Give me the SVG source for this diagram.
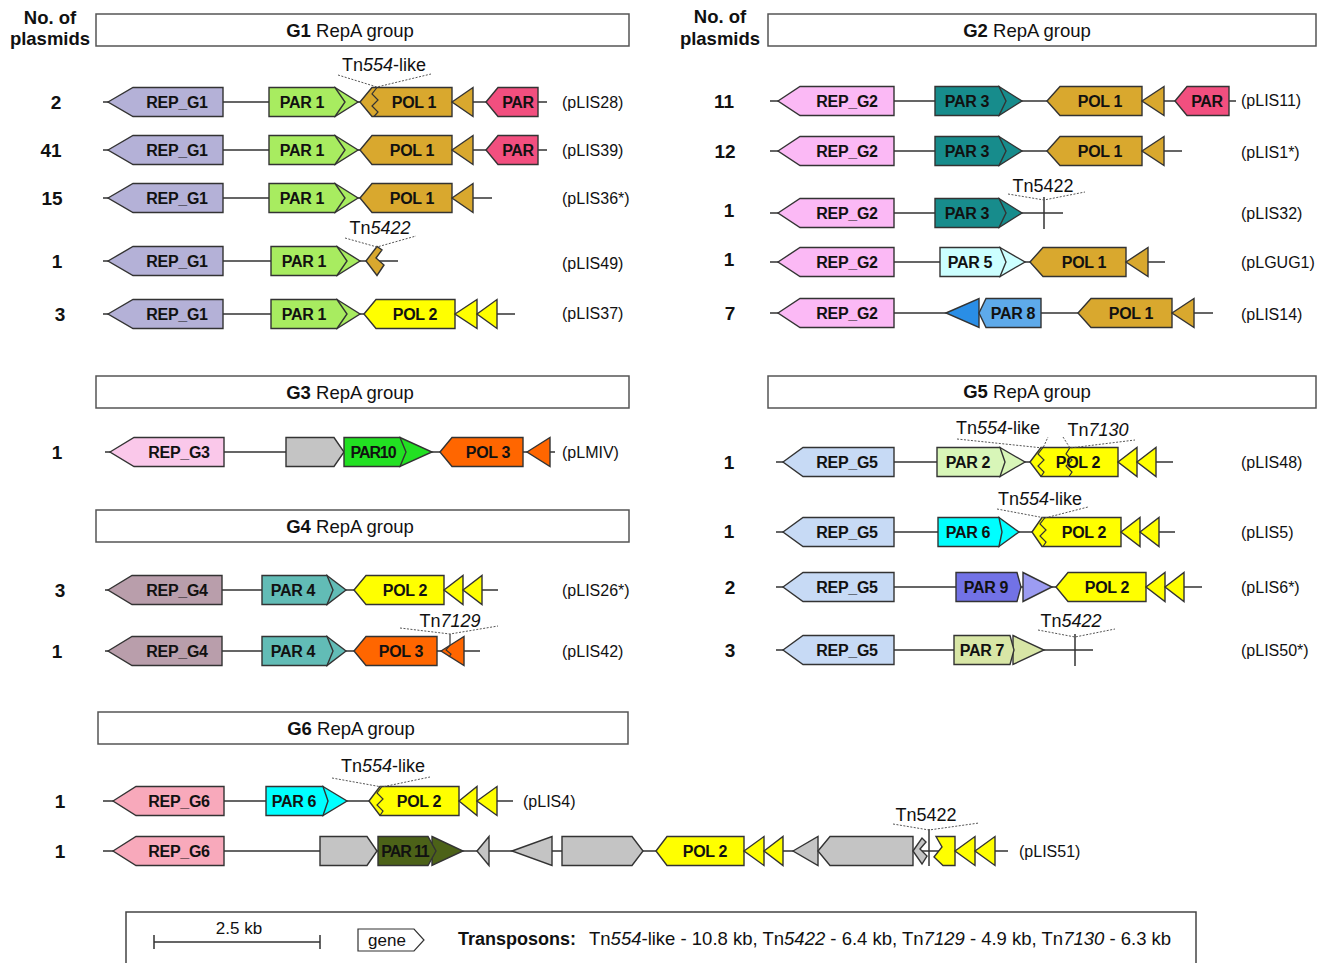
<svg xmlns="http://www.w3.org/2000/svg" width="1323" height="963" viewBox="0 0 1323 963">
<style>
text{font-family:"Liberation Sans",Arial,sans-serif;fill:#111}
.g{stroke:#333;stroke-width:1.4;stroke-linejoin:miter}
.bb{stroke:#333;stroke-width:1.5;fill:none}
.z{stroke:#333;stroke-width:1.2;fill:none}
.dot{fill:none;stroke:#555;stroke-width:1;stroke-dasharray:2 1.5}
.t{font-weight:bold;font-size:16px;letter-spacing:-0.3px;text-anchor:middle}
.tc{font-weight:bold;font-size:16px;letter-spacing:-1.1px;text-anchor:middle}
.lab{font-size:16px}
.num{font-weight:bold;font-size:19px;text-anchor:middle}
.tn{font-size:18px;text-anchor:middle}
.hd{stroke:#555;stroke-width:1.5;fill:#fff}
.ht{font-size:18.5px;text-anchor:middle}
.rep1{fill:#b4b1d7}.rep2{fill:#fbb9f5}.rep3{fill:#fac8ea}.rep4{fill:#b99eab}.rep5{fill:#c7daf5}.rep6{fill:#f8a9bb}
.par1{fill:#a8ec60}.par2{fill:#d8f6b8}.par3{fill:#178c8c}.par4{fill:#62bcb6}.par5{fill:#ccffff}.par6{fill:#00ffff}
.par7{fill:#d8e6a6}.par8{fill:#5eaaea}.par8t{fill:#2a8ee6}.par9{fill:#7272e6}.par9t{fill:#9c9cf2}.par10{fill:#22e022}.par11{fill:#4c6218}
.parx{fill:#f24f7f}.pol1{fill:#d9a82e}.pol2{fill:#ffff00}.pol3{fill:#ff6600}.gray{fill:#c4c4c4}
</style>

<g id="connectors">
<path class="bb" d="M103,102H547M103,150H547M103,198H492M103,261H398M103,314H515"/>
<path class="bb" d="M770,101H1236M770,151H1182M770,213H1063M770,262H1165M770,313H1213"/>
<path class="bb" d="M105,452H555M105,590H498M105,651H480"/>
<path class="bb" d="M776,462H1173M776,532H1175M776,587H1202M776,650H1093"/>
<path class="bb" d="M103,801H513M103,851H1008"/>
</g>

<!-- Headers -->
<g id="hdr-g1"><text class="num" x="50" y="24" style="font-size:18.5px">No. of</text><text class="num" x="50" y="45" style="font-size:18.5px">plasmids</text>
<rect class="hd" x="96" y="14" width="533" height="32"/><text class="ht" x="350" y="37"><tspan font-weight="bold">G1</tspan> RepA group</text></g>
<g id="hdr-g2"><text class="num" x="720" y="23" style="font-size:18.5px">No. of</text><text class="num" x="720" y="45" style="font-size:18.5px">plasmids</text>
<rect class="hd" x="768" y="14" width="548" height="32"/><text class="ht" x="1027" y="37"><tspan font-weight="bold">G2</tspan> RepA group</text></g>
<g id="hdr-g3"><rect class="hd" x="96" y="376" width="533" height="32"/><text class="ht" x="350" y="399"><tspan font-weight="bold">G3</tspan> RepA group</text></g>
<g id="hdr-g4"><rect class="hd" x="96" y="510" width="533" height="32"/><text class="ht" x="350" y="533"><tspan font-weight="bold">G4</tspan> RepA group</text></g>
<g id="hdr-g5"><rect class="hd" x="768" y="376" width="548" height="32"/><text class="ht" x="1027" y="398"><tspan font-weight="bold">G5</tspan> RepA group</text></g>
<g id="hdr-g6"><rect class="hd" x="98" y="712" width="530" height="32"/><text class="ht" x="351" y="735"><tspan font-weight="bold">G6</tspan> RepA group</text></g>

<!-- G1 row 1 -->
<g id="g1r1">
<text class="num" x="56" y="109">2</text>
<g id="g1r1-rep"><polygon class="g rep1" points="108,102 133,87.5 223,87.5 223,116.5 133,116.5"/><text class="t" x="177" y="108">REP_G1</text></g>
<g id="g1r1-par"><polygon class="g par1" points="335,87.5 358,102 335,116.5"/><polygon class="g par1" points="269,87.5 335,87.5 345,102 335,116.5 269,116.5"/><text class="t" x="302" y="108">PAR 1</text></g>
<g id="g1r1-pol"><polygon class="g pol1" points="360,102 372,87.5 452,87.5 452,116.5 372,116.5"/><path class="z" d="M377,87.5L372,94L378,100L372,106L378,112L374,116.5"/><text class="t" x="414" y="108">POL 1</text><polygon class="g pol1" points="452,102 473,87.5 473,116.5"/></g>
<g id="g1r1-parx"><polygon class="g parx" points="486,102 498,87.5 538,87.5 538,116.5 498,116.5"/><text class="t" x="518" y="108">PAR</text></g>
<g id="g1r1-tn"><path class="dot" d="M338,75L377,87L431,74"/><text class="tn" x="384" y="71">Tn<tspan font-style="italic">554</tspan>-like</text></g>
<text class="lab" x="562" y="108">(pLIS28)</text>
</g>

<!-- G1 row 2 -->
<g id="g1r2">
<text class="num" x="51" y="157">41</text>
<g id="g1r2-rep"><polygon class="g rep1" points="108,150 133,135.5 223,135.5 223,164.5 133,164.5"/><text class="t" x="177" y="156">REP_G1</text></g>
<g id="g1r2-par"><polygon class="g par1" points="335,135.5 358,150 335,164.5"/><polygon class="g par1" points="269,135.5 335,135.5 345,150 335,164.5 269,164.5"/><text class="t" x="302" y="156">PAR 1</text></g>
<g id="g1r2-pol"><polygon class="g pol1" points="360,150 372,135.5 452,135.5 452,164.5 372,164.5"/><text class="t" x="412" y="156">POL 1</text><polygon class="g pol1" points="452,150 473,135.5 473,164.5"/></g>
<g id="g1r2-parx"><polygon class="g parx" points="486,150 498,135.5 538,135.5 538,164.5 498,164.5"/><text class="t" x="518" y="156">PAR</text></g>
<text class="lab" x="562" y="156">(pLIS39)</text>
</g>

<!-- G1 row 3 -->
<g id="g1r3">
<text class="num" x="52" y="205">15</text>
<g id="g1r3-rep"><polygon class="g rep1" points="108,198 133,183.5 223,183.5 223,212.5 133,212.5"/><text class="t" x="177" y="204">REP_G1</text></g>
<g id="g1r3-par"><polygon class="g par1" points="335,183.5 358,198 335,212.5"/><polygon class="g par1" points="269,183.5 335,183.5 345,198 335,212.5 269,212.5"/><text class="t" x="302" y="204">PAR 1</text></g>
<g id="g1r3-pol"><polygon class="g pol1" points="360,198 372,183.5 452,183.5 452,212.5 372,212.5"/><text class="t" x="412" y="204">POL 1</text><polygon class="g pol1" points="452,198 473,183.5 473,212.5"/></g>
<text class="lab" x="562" y="204">(pLIS36*)</text>
</g>

<!-- G1 row 4 -->
<g id="g1r4">
<text class="num" x="57" y="268">1</text>
<g id="g1r4-rep"><polygon class="g rep1" points="108,261 133,246.5 223,246.5 223,275.5 133,275.5"/><text class="t" x="177" y="267">REP_G1</text></g>
<g id="g1r4-par"><polygon class="g par1" points="337,246.5 360,261 337,275.5"/><polygon class="g par1" points="271,246.5 337,246.5 347,261 337,275.5 271,275.5"/><text class="t" x="304" y="267">PAR 1</text></g>
<g id="g1r4-pol"><polygon class="g pol1" points="366,261 377,246.5 382,250 376,258 384,265 377,275.5"/></g>
<g id="g1r4-tn"><path class="dot" d="M345,238L377,247L416,236"/><text class="tn" x="380" y="234">Tn<tspan font-style="italic">5422</tspan></text></g>
<text class="lab" x="562" y="269">(pLIS49)</text>
</g>

<!-- G1 row 5 -->
<g id="g1r5">
<text class="num" x="60" y="321">3</text>
<g id="g1r5-rep"><polygon class="g rep1" points="108,314 133,299.5 223,299.5 223,328.5 133,328.5"/><text class="t" x="177" y="320">REP_G1</text></g>
<g id="g1r5-par"><polygon class="g par1" points="337,299.5 360,314 337,328.5"/><polygon class="g par1" points="271,299.5 337,299.5 347,314 337,328.5 271,328.5"/><text class="t" x="304" y="320">PAR 1</text></g>
<g id="g1r5-pol"><polygon class="g pol2" points="364,314 376,299.5 455,299.5 455,328.5 376,328.5"/><text class="t" x="415" y="320">POL 2</text><polygon class="g pol2" points="455,314 477,299.5 477,328.5"/><polygon class="g pol2" points="477,314 497,299.5 497,328.5"/></g>
<text class="lab" x="562" y="319">(pLIS37)</text>
</g>

<!-- G2 row 1 -->
<g id="g2r1">
<text class="num" x="724" y="108">11</text>
<g id="g2r1-rep"><polygon class="g rep2" points="778,101 800,86.5 894,86.5 894,115.5 800,115.5"/><text class="t" x="847" y="107">REP_G2</text></g>
<g id="g2r1-par"><polygon class="g par3" points="999,86.5 1022,101 999,115.5"/><polygon class="g par3" points="935,86.5 999,86.5 1006,101 999,115.5 935,115.5"/><text class="t" x="967" y="107">PAR 3</text></g>
<g id="g2r1-pol"><polygon class="g pol1" points="1047,101 1060,86.5 1142,86.5 1142,115.5 1060,115.5"/><text class="t" x="1100" y="107">POL 1</text><polygon class="g pol1" points="1142,101 1164,86.5 1164,115.5"/></g>
<g id="g2r1-parx"><polygon class="g parx" points="1175,101 1187,86.5 1229,86.5 1229,115.5 1187,115.5"/><text class="t" x="1207" y="107">PAR</text></g>
<text class="lab" x="1241" y="106">(pLIS11)</text>
</g>

<!-- G2 row 2 -->
<g id="g2r2">
<text class="num" x="725" y="158">12</text>
<g id="g2r2-rep"><polygon class="g rep2" points="778,151 800,136.5 894,136.5 894,165.5 800,165.5"/><text class="t" x="847" y="157">REP_G2</text></g>
<g id="g2r2-par"><polygon class="g par3" points="999,136.5 1022,151 999,165.5"/><polygon class="g par3" points="935,136.5 999,136.5 1006,151 999,165.5 935,165.5"/><text class="t" x="967" y="157">PAR 3</text></g>
<g id="g2r2-pol"><polygon class="g pol1" points="1047,151 1060,136.5 1142,136.5 1142,165.5 1060,165.5"/><text class="t" x="1100" y="157">POL 1</text><polygon class="g pol1" points="1142,151 1164,136.5 1164,165.5"/></g>
<text class="lab" x="1241" y="158">(pLIS1*)</text>
</g>

<!-- G2 row 3 -->
<g id="g2r3">
<text class="num" x="729" y="217">1</text>
<g id="g2r3-rep"><polygon class="g rep2" points="778,213 800,198.5 894,198.5 894,227.5 800,227.5"/><text class="t" x="847" y="219">REP_G2</text></g>
<g id="g2r3-par"><polygon class="g par3" points="999,198.5 1022,213 999,227.5"/><polygon class="g par3" points="935,198.5 999,198.5 1006,213 999,227.5 935,227.5"/><text class="t" x="967" y="219">PAR 3</text></g>
<g id="g2r3-tn"><path class="bb" d="M1044,197V229"/><path class="dot" d="M1008,194L1044,200L1085,192"/><text class="tn" x="1043" y="192">Tn5422</text></g>
<text class="lab" x="1241" y="219">(pLIS32)</text>
</g>

<!-- G2 row 4 -->
<g id="g2r4">
<text class="num" x="729" y="266">1</text>
<g id="g2r4-rep"><polygon class="g rep2" points="778,262 800,247.5 894,247.5 894,276.5 800,276.5"/><text class="t" x="847" y="268">REP_G2</text></g>
<g id="g2r4-par"><polygon class="g par5" points="1000,247.5 1025,262 1000,276.5"/><polygon class="g par5" points="940,247.5 1000,247.5 1006,262 1000,276.5 940,276.5"/><text class="t" x="970" y="268">PAR 5</text></g>
<g id="g2r4-pol"><polygon class="g pol1" points="1030,262 1043,247.5 1126,247.5 1126,276.5 1043,276.5"/><text class="t" x="1084" y="268">POL 1</text><polygon class="g pol1" points="1126,262 1148,247.5 1148,276.5"/></g>
<text class="lab" x="1241" y="268">(pLGUG1)</text>
</g>

<!-- G2 row 5 -->
<g id="g2r5">
<text class="num" x="730" y="320">7</text>
<g id="g2r5-rep"><polygon class="g rep2" points="778,313 800,298.5 894,298.5 894,327.5 800,327.5"/><text class="t" x="847" y="319">REP_G2</text></g>
<g id="g2r5-par"><polygon class="g par8t" points="946,313 979,298.5 979,327.5"/><polygon class="g par8" points="979,313 986,298.5 1041,298.5 1041,327.5 986,327.5"/><text class="t" x="1013" y="319">PAR 8</text></g>
<g id="g2r5-pol"><polygon class="g pol1" points="1078,313 1091,298.5 1172,298.5 1172,327.5 1091,327.5"/><text class="t" x="1131" y="319">POL 1</text><polygon class="g pol1" points="1172,313 1194,298.5 1194,327.5"/></g>
<text class="lab" x="1241" y="320">(pLIS14)</text>
</g>

<!-- G3 -->
<g id="g3r1">
<text class="num" x="57" y="459">1</text>
<g id="g3r1-rep"><polygon class="g rep3" points="110,452 134,437.5 224,437.5 224,466.5 134,466.5"/><text class="t" x="179" y="458">REP_G3</text></g>
<g id="g3r1-gray"><polygon class="g gray" points="286,437.5 334,437.5 344,452 334,466.5 286,466.5"/></g>
<g id="g3r1-par"><polygon class="g par10" points="400,437.5 432,452 400,466.5"/><polygon class="g par10" points="344,437.5 400,437.5 406,452 400,466.5 344,466.5"/><text class="tc" x="373" y="458">PAR10</text></g>
<g id="g3r1-pol"><polygon class="g pol3" points="440,452 452,437.5 523,437.5 523,466.5 452,466.5"/><text class="t" x="488" y="458">POL 3</text><polygon class="g pol3" points="527,452 550,437.5 550,466.5"/></g>
<text class="lab" x="562" y="458">(pLMIV)</text>
</g>

<!-- G4 row 1 -->
<g id="g4r1">
<text class="num" x="60" y="597">3</text>
<g id="g4r1-rep"><polygon class="g rep4" points="108,590 132,575.5 222,575.5 222,604.5 132,604.5"/><text class="t" x="177" y="596">REP_G4</text></g>
<g id="g4r1-par"><polygon class="g par4" points="327,575.5 346,590 327,604.5"/><polygon class="g par4" points="262,575.5 327,575.5 333,590 327,604.5 262,604.5"/><text class="t" x="293" y="596">PAR 4</text></g>
<g id="g4r1-pol"><polygon class="g pol2" points="354,590 366,575.5 444,575.5 444,604.5 366,604.5"/><text class="t" x="405" y="596">POL 2</text><polygon class="g pol2" points="444,590 463,575.5 463,604.5"/><polygon class="g pol2" points="463,590 482,575.5 482,604.5"/></g>
<text class="lab" x="562" y="596">(pLIS26*)</text>
</g>

<!-- G4 row 2 -->
<g id="g4r2">
<text class="num" x="57" y="658">1</text>
<g id="g4r2-rep"><polygon class="g rep4" points="108,651 132,636.5 222,636.5 222,665.5 132,665.5"/><text class="t" x="177" y="657">REP_G4</text></g>
<g id="g4r2-par"><polygon class="g par4" points="327,636.5 346,651 327,665.5"/><polygon class="g par4" points="262,636.5 327,636.5 333,651 327,665.5 262,665.5"/><text class="t" x="293" y="657">PAR 4</text></g>
<g id="g4r2-pol"><polygon class="g pol3" points="354,651 366,636.5 437,636.5 437,665.5 366,665.5"/><text class="t" x="401" y="657">POL 3</text><polygon class="g pol3" points="441,651 464,636.5 464,665.5"/></g>
<g id="g4r2-tn"><path class="z" d="M450,634V645L446,650L451,654L449,657"/><path class="dot" d="M400,628L450,634L498,626"/><text class="tn" x="450" y="627">Tn<tspan font-style="italic">7129</tspan></text></g>
<text class="lab" x="562" y="657">(pLIS42)</text>
</g>

<!-- G5 row 1 -->
<g id="g5r1">
<text class="num" x="729" y="469">1</text>
<g id="g5r1-rep"><polygon class="g rep5" points="783,462 803,447.5 894,447.5 894,476.5 803,476.5"/><text class="t" x="847" y="468">REP_G5</text></g>
<g id="g5r1-par"><polygon class="g par2" points="1000,447.5 1025,462 1000,476.5"/><polygon class="g par2" points="937,447.5 1000,447.5 1005,462 1000,476.5 937,476.5"/><text class="t" x="968" y="468">PAR 2</text></g>
<g id="g5r1-pol"><polygon class="g pol2" points="1030,462 1041,447.5 1118,447.5 1118,476.5 1041,476.5"/><text class="t" x="1078" y="468">POL 2</text>
<path class="z" d="M1043,447.5L1038,454L1044,460L1038,466L1044,472L1041,476.5M1070,447.5L1066,454L1072,460L1066,466L1072,472L1069,476.5"/>
<polygon class="g pol2" points="1118,462 1137,447.5 1137,476.5"/><polygon class="g pol2" points="1137,462 1156,447.5 1156,476.5"/></g>
<g id="g5r1-tn"><path class="dot" d="M957,439L1043,448L1048,437M1063,437L1070,448L1135,440"/><text class="tn" x="998" y="434">Tn<tspan font-style="italic">554</tspan>-like</text><text class="tn" x="1098" y="436">Tn<tspan font-style="italic">7130</tspan></text></g>
<text class="lab" x="1241" y="468">(pLIS48)</text>
</g>

<!-- G5 row 2 -->
<g id="g5r2">
<text class="num" x="729" y="538">1</text>
<g id="g5r2-rep"><polygon class="g rep5" points="783,532 803,517.5 894,517.5 894,546.5 803,546.5"/><text class="t" x="847" y="538">REP_G5</text></g>
<g id="g5r2-par"><polygon class="g par6" points="999,517.5 1019,532 999,546.5"/><polygon class="g par6" points="938,517.5 999,517.5 1002,532 999,546.5 938,546.5"/><text class="t" x="968" y="538">PAR 6</text></g>
<g id="g5r2-pol"><polygon class="g pol2" points="1032,532 1042,517.5 1121,517.5 1121,546.5 1042,546.5"/><path class="z" d="M1045,517.5L1040,524L1046,530L1040,536L1046,542L1043,546.5"/><text class="t" x="1084" y="538">POL 2</text>
<polygon class="g pol2" points="1121,532 1140,517.5 1140,546.5"/><polygon class="g pol2" points="1140,532 1159,517.5 1159,546.5"/></g>
<g id="g5r2-tn"><path class="dot" d="M997,509L1045,518L1088,507"/><text class="tn" x="1040" y="505">Tn<tspan font-style="italic">554</tspan>-like</text></g>
<text class="lab" x="1241" y="538">(pLIS5)</text>
</g>

<!-- G5 row 3 -->
<g id="g5r3">
<text class="num" x="730" y="594">2</text>
<g id="g5r3-rep"><polygon class="g rep5" points="783,587 803,572.5 894,572.5 894,601.5 803,601.5"/><text class="t" x="847" y="593">REP_G5</text></g>
<g id="g5r3-par"><polygon class="g par9" points="956,572.5 1017,572.5 1021,587 1017,601.5 956,601.5"/><text class="t" x="986" y="593">PAR 9</text><polygon class="g par9t" points="1023,572.5 1052,587 1023,601.5"/></g>
<g id="g5r3-pol"><polygon class="g pol2" points="1056,587 1068,572.5 1146,572.5 1146,601.5 1068,601.5"/><text class="t" x="1107" y="593">POL 2</text>
<polygon class="g pol2" points="1146,587 1165,572.5 1165,601.5"/><polygon class="g pol2" points="1165,587 1184,572.5 1184,601.5"/></g>
<text class="lab" x="1241" y="593">(pLIS6*)</text>
</g>

<!-- G5 row 4 -->
<g id="g5r4">
<text class="num" x="730" y="657">3</text>
<g id="g5r4-rep"><polygon class="g rep5" points="783,650 803,635.5 894,635.5 894,664.5 803,664.5"/><text class="t" x="847" y="656">REP_G5</text></g>
<g id="g5r4-par"><polygon class="g par7" points="1013,635.5 1044,650 1013,664.5"/><polygon class="g par7" points="954,635.5 1010,635.5 1014,650 1010,664.5 954,664.5"/><text class="t" x="982" y="656">PAR 7</text></g>
<g id="g5r4-tn"><path class="bb" d="M1075,634V666"/><path class="dot" d="M1038,630L1075,637L1115,629"/><text class="tn" x="1071" y="627">Tn<tspan font-style="italic">5422</tspan></text></g>
<text class="lab" x="1241" y="656">(pLIS50*)</text>
</g>

<!-- G6 row 1 -->
<g id="g6r1">
<text class="num" x="60" y="808">1</text>
<g id="g6r1-rep"><polygon class="g rep6" points="113,801 136,786.5 224,786.5 224,815.5 136,815.5"/><text class="t" x="179" y="807">REP_G6</text></g>
<g id="g6r1-par"><polygon class="g par6" points="323,786.5 347,801 323,815.5"/><polygon class="g par6" points="266,786.5 323,786.5 328,801 323,815.5 266,815.5"/><text class="t" x="294" y="807">PAR 6</text></g>
<g id="g6r1-pol"><polygon class="g pol2" points="369,801 380,786.5 459,786.5 459,815.5 380,815.5"/><path class="z" d="M382,786.5L377,793L383,799L377,805L383,811L380,815.5"/><text class="t" x="419" y="807">POL 2</text>
<polygon class="g pol2" points="459,801 477,786.5 477,815.5"/><polygon class="g pol2" points="477,801 497,786.5 497,815.5"/></g>
<g id="g6r1-tn"><path class="dot" d="M332,778L382,787L430,777"/><text class="tn" x="383" y="772">Tn<tspan font-style="italic">554</tspan>-like</text></g>
<text class="lab" x="523" y="807">(pLIS4)</text>
</g>

<!-- G6 row 2 -->
<g id="g6r2">
<text class="num" x="60" y="858">1</text>
<g id="g6r2-rep"><polygon class="g rep6" points="113,851 136,836.5 224,836.5 224,865.5 136,865.5"/><text class="t" x="179" y="857">REP_G6</text></g>
<g id="g6r2-gray1"><polygon class="g gray" points="320,836.5 367,836.5 377,851 367,865.5 320,865.5"/></g>
<g id="g6r2-par"><polygon class="g par11" points="432,836.5 463,851 432,865.5"/><polygon class="g par11" points="378,836.5 428,836.5 436,851 428,865.5 378,865.5"/><text class="tc" x="405" y="857">PAR 11</text></g>
<g id="g6r2-gray2"><polygon class="g gray" points="477,851 489,836.5 489,865.5"/></g>
<g id="g6r2-gray3"><polygon class="g gray" points="512,851 552,836.5 552,865.5"/></g>
<g id="g6r2-gray4"><polygon class="g gray" points="562,836.5 632,836.5 643,851 632,865.5 562,865.5"/></g>
<g id="g6r2-pol"><polygon class="g pol2" points="656,851 667,836.5 744,836.5 744,865.5 667,865.5"/><text class="t" x="705" y="857">POL 2</text>
<polygon class="g pol2" points="744,851 764,836.5 764,865.5"/><polygon class="g pol2" points="764,851 783,836.5 783,865.5"/></g>
<g id="g6r2-gray5"><polygon class="g gray" points="793,851 818,836.5 818,865.5"/></g>
<g id="g6r2-gray6"><polygon class="g gray" points="818,851 830,836.5 913,836.5 913,865.5 830,865.5"/><polygon class="g gray" points="913,851 922,838 926,842 920,849 927,856 922,864"/></g>
<g id="g6r2-pol2"><polygon class="g pol2" points="936,836.5 955,836.5 955,865.5 943,865.5 934,857 942,847"/>
<polygon class="g pol2" points="955,851 975,836.5 975,865.5"/><polygon class="g pol2" points="975,851 995,836.5 995,865.5"/></g>
<g id="g6r2-tn"><path class="bb" d="M929,829V866"/><path class="dot" d="M893,824L929,830L979,823"/><text class="tn" x="926" y="821">Tn5422</text></g>
<text class="lab" x="1019" y="857">(pLIS51)</text>
</g>

<!-- Legend -->
<g id="legend">
<rect x="126" y="912" width="1070" height="62" fill="#fff" stroke="#444" stroke-width="1.5"/>
<path class="bb" d="M154,942H320M154,935V949M320,935V949"/>
<text x="239" y="934" style="font-size:17px;text-anchor:middle">2.5 kb</text>
<polygon points="358,929 414,929 424,940 414,951 358,951" fill="#fff" stroke="#333" stroke-width="1.2"/>
<text x="387" y="946" style="font-size:17px;text-anchor:middle">gene</text>
<text x="458" y="945" style="font-size:18px"><tspan font-weight="bold">Transposons:</tspan><tspan x="589" style="font-size:18.5px">Tn<tspan font-style="italic">554</tspan>-like - 10.8 kb, Tn<tspan font-style="italic">5422</tspan> - 6.4 kb, Tn<tspan font-style="italic">7129</tspan> - 4.9 kb, Tn<tspan font-style="italic">7130</tspan> - 6.3 kb</tspan></text>
</g>
</svg>
